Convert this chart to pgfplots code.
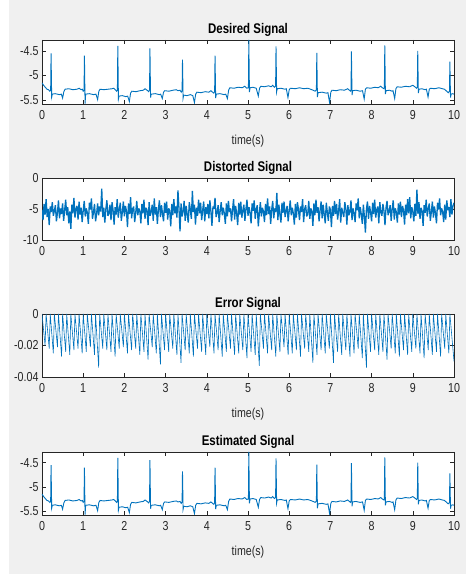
\documentclass[border=0pt]{standalone}
\usepackage{fontspec}
\setmainfont[FakeStretch=0.82]{Liberation Sans}
\usepackage{pgfplots}
\usepackage{pgfplotstable}
\pgfplotsset{compat=1.18}
\definecolor{mblue}{rgb}{0,0.447,0.741}
\definecolor{figbg}{HTML}{F0F0F0}
\definecolor{axgray}{HTML}{262626}

\pgfplotstableread{
t y
0.00 -5.15
0.04 -5.20
0.08 -5.24
0.12 -5.28
0.16 -5.29
0.19 -5.32
0.21 -5.30
0.22 -4.55
0.235 -5.44
0.25 -5.38
0.32 -5.37
0.42 -5.39
0.47 -5.38
0.50 -5.46
0.53 -5.33
0.56 -5.28
0.65 -5.27
0.75 -5.29
0.85 -5.28
0.90 -5.26
0.95 -5.29
0.98 -5.28
1.00 -5.32
1.02 -5.30
1.03 -4.60
1.045 -5.57
1.06 -5.38
1.15 -5.37
1.25 -5.39
1.31 -5.38
1.35 -5.49
1.38 -5.32
1.41 -5.28
1.50 -5.29
1.60 -5.28
1.70 -5.27
1.74 -5.26
1.78 -5.29
1.81 -5.32
1.83 -5.30
1.84 -4.40
1.855 -5.48
1.87 -5.42
1.95 -5.41
2.03 -5.43
2.08 -5.42
2.12 -5.53
2.15 -5.36
2.18 -5.32
2.28 -5.33
2.38 -5.31
2.46 -5.30
2.50 -5.27
2.55 -5.30
2.59 -5.33
2.61 -5.30
2.62 -4.45
2.635 -5.45
2.65 -5.38
2.75 -5.37
2.85 -5.39
2.88 -5.38
2.92 -5.47
2.95 -5.34
2.98 -5.31
3.08 -5.32
3.18 -5.30
3.26 -5.29
3.30 -5.31
3.35 -5.30
3.38 -5.34
3.40 -5.31
3.41 -4.68
3.425 -5.46
3.44 -5.40
3.52 -5.41
3.60 -5.39
3.66 -5.41
3.70 -5.55
3.73 -5.38
3.76 -5.34
3.86 -5.35
3.96 -5.33
4.05 -5.34
4.10 -5.31
4.14 -5.34
4.17 -5.36
4.19 -5.33
4.20 -4.60
4.215 -5.46
4.23 -5.38
4.32 -5.37
4.42 -5.39
4.46 -5.38
4.50 -5.47
4.53 -5.30
4.56 -5.25
4.66 -5.26
4.76 -5.24
4.86 -5.25
4.92 -5.22
4.97 -5.26
5.01 -5.25
5.02 -4.28
5.035 -5.34
5.05 -5.25
5.12 -5.24
5.20 -5.26
5.25 -5.42
5.28 -5.26
5.31 -5.22
5.40 -5.23
5.50 -5.21
5.56 -5.23
5.60 -5.20
5.64 -5.24
5.67 -5.22
5.68 -4.41
5.695 -5.33
5.71 -5.27
5.80 -5.26
5.90 -5.28
5.93 -5.27
5.97 -5.45
6.00 -5.29
6.03 -5.26
6.15 -5.27
6.25 -5.25
6.35 -5.27
6.45 -5.26
6.52 -5.28
6.58 -5.30
6.63 -5.32
6.66 -5.29
6.67 -4.54
6.685 -5.44
6.70 -5.35
6.80 -5.34
6.90 -5.36
6.94 -5.35
6.98 -5.55
7.01 -5.34
7.04 -5.30
7.14 -5.31
7.24 -5.29
7.34 -5.30
7.42 -5.27
7.46 -5.30
7.49 -5.32
7.50 -5.29
7.51 -4.51
7.525 -5.40
7.54 -5.31
7.62 -5.30
7.72 -5.32
7.78 -5.31
7.82 -5.48
7.85 -5.28
7.88 -5.25
7.98 -5.26
8.08 -5.24
8.16 -5.25
8.22 -5.22
8.26 -5.25
8.30 -5.27
8.31 -5.24
8.32 -4.39
8.335 -5.38
8.35 -5.31
8.43 -5.30
8.50 -5.32
8.52 -5.31
8.56 -5.47
8.59 -5.27
8.62 -5.23
8.72 -5.24
8.82 -5.22
8.92 -5.23
9.00 -5.20
9.05 -5.23
9.09 -5.26
9.11 -5.24
9.12 -4.50
9.135 -5.36
9.15 -5.28
9.22 -5.27
9.30 -5.29
9.33 -5.28
9.37 -5.44
9.40 -5.28
9.43 -5.26
9.53 -5.27
9.63 -5.25
9.72 -5.27
9.77 -5.28
9.82 -5.32
9.86 -5.35
9.89 -5.32
9.90 -4.72
9.915 -5.45
9.93 -5.38
9.97 -5.37
10.00 -5.38
}\ecg

\pgfplotstableread[row sep=\\]{
y\\
-5.1\\ -6.8\\ -4.2\\ -5.9\\ -3.4\\ -6.3\\ -5.0\\ -7.6\\ -4.6\\ -5.5\\ -3.9\\ -6.1\\ -5.3\\ -4.4\\ -7.0\\ -5.6\\ -3.6\\ -6.5\\ -4.9\\ -5.8\\
-4.1\\ -6.9\\ -5.2\\ -3.5\\ -6.0\\ -4.7\\ -7.3\\ -5.4\\ -8.2\\ -4.3\\ -5.7\\ -3.2\\ -6.4\\ -5.0\\ -4.5\\ -6.7\\ -3.8\\ -5.9\\ -4.8\\ -7.1\\
-5.3\\ -3.7\\ -6.2\\ -4.9\\ -5.6\\ -7.4\\ -4.0\\ -5.1\\ -3.3\\ -6.6\\ -5.5\\ -4.2\\ -7.0\\ -5.8\\ -4.1\\ -6.0\\ -4.6\\ -5.4\\ -1.7\\ -6.3\\
-4.8\\ -7.2\\ -5.0\\ -3.6\\ -6.1\\ -5.7\\ -4.3\\ -6.8\\ -3.9\\ -5.2\\ -7.5\\ -4.7\\ -5.9\\ -3.4\\ -6.4\\ -5.1\\ -4.0\\ -6.9\\ -5.5\\ -3.8\\
-6.2\\ -4.5\\ -5.3\\ -7.9\\ -4.1\\ -5.8\\ -3.1\\ -6.5\\ -5.0\\ -4.6\\ -7.1\\ -5.6\\ -3.7\\ -6.0\\ -4.9\\ -5.4\\ -7.3\\ -4.2\\ -5.7\\ -3.5\\
-6.6\\ -4.8\\ -5.2\\ -7.6\\ -3.9\\ -6.1\\ -5.5\\ -4.3\\ -6.9\\ -3.3\\ -5.9\\ -4.7\\ -7.4\\ -5.1\\ -3.6\\ -6.3\\ -4.4\\ -5.8\\ -7.0\\ -4.0\\
-5.6\\ -3.8\\ -6.7\\ -4.9\\ -5.3\\ -7.8\\ -4.2\\ -6.0\\ -3.4\\ -5.7\\ -4.6\\ -6.4\\ -2.0\\ -5.0\\ -8.6\\ -4.1\\ -6.2\\ -5.4\\ -3.7\\ -6.9\\
-4.5\\ -5.9\\ -7.2\\ -3.9\\ -5.1\\ -6.6\\ -2.1\\ -5.5\\ -4.3\\ -7.5\\ -4.8\\ -6.1\\ -3.5\\ -5.7\\ -4.0\\ -6.8\\ -5.2\\ -3.8\\ -7.0\\ -4.7\\
-5.8\\ -4.2\\ -6.5\\ -3.6\\ -5.4\\ -7.7\\ -4.6\\ -5.0\\ -3.2\\ -6.3\\ -5.6\\ -4.4\\ -7.1\\ -5.3\\ -3.9\\ -6.0\\ -4.8\\ -5.7\\ -7.4\\ -4.1\\
-6.2\\ -3.7\\ -5.5\\ -4.9\\ -7.0\\ -5.1\\ -3.4\\ -6.7\\ -4.5\\ -5.8\\ -7.6\\ -4.0\\ -5.9\\ -3.8\\ -6.4\\ -5.2\\ -4.3\\ -6.9\\ -5.0\\ -3.5\\
-6.1\\ -4.7\\ -5.6\\ -7.3\\ -4.1\\ -5.3\\ -3.6\\ -6.6\\ -5.0\\ -4.4\\ -7.8\\ -5.7\\ -3.9\\ -6.2\\ -4.8\\ -5.4\\ -7.1\\ -4.2\\ -6.0\\ -3.3\\
-5.8\\ -4.6\\ -7.4\\ -5.1\\ -3.7\\ -6.5\\ -4.9\\ -5.5\\ -2.4\\ -6.8\\ -4.3\\ -5.9\\ -7.2\\ -4.0\\ -5.6\\ -3.8\\ -6.3\\ -5.2\\ -4.5\\ -7.0\\
-5.3\\ -3.6\\ -6.0\\ -4.8\\ -5.7\\ -7.5\\ -4.2\\ -6.4\\ -3.9\\ -5.1\\ -6.8\\ -4.6\\ -5.5\\ -3.4\\ -7.1\\ -5.0\\ -4.4\\ -6.2\\ -5.8\\ -3.7\\
-6.6\\ -4.9\\ -5.4\\ -7.7\\ -4.1\\ -6.0\\ -3.5\\ -5.6\\ -4.7\\ -7.0\\ -5.2\\ -3.8\\ -6.5\\ -4.3\\ -5.9\\ -7.3\\ -4.0\\ -5.5\\ -6.9\\ -4.6\\
-5.1\\ -7.9\\ -4.5\\ -6.1\\ -3.7\\ -5.8\\ -4.2\\ -6.7\\ -5.3\\ -3.4\\ -7.2\\ -4.8\\ -5.6\\ -6.3\\ -3.9\\ -5.0\\ -7.5\\ -4.4\\ -6.0\\ -5.4\\
-3.6\\ -6.8\\ -4.9\\ -5.7\\ -7.1\\ -4.1\\ -5.2\\ -3.3\\ -6.5\\ -4.7\\ -5.9\\ -7.4\\ -4.3\\ -6.2\\ -8.8\\ -5.0\\ -3.8\\ -6.6\\ -4.5\\ -5.5\\
-7.0\\ -4.0\\ -5.8\\ -3.5\\ -6.4\\ -5.1\\ -4.6\\ -7.3\\ -3.9\\ -5.6\\ -6.1\\ -4.2\\ -5.3\\ -7.6\\ -4.8\\ -3.7\\ -6.0\\ -5.4\\ -4.4\\ -6.9\\
-5.0\\ -3.6\\ -6.7\\ -4.9\\ -5.5\\ -7.2\\ -4.1\\ -5.9\\ -3.8\\ -6.3\\ -4.5\\ -5.2\\ -7.5\\ -4.3\\ -6.0\\ -3.4\\ -5.7\\ -3.1\\ -6.5\\ -4.7\\
-5.4\\ -7.0\\ -4.2\\ -6.1\\ -1.9\\ -5.8\\ -3.9\\ -6.6\\ -4.8\\ -5.3\\ -7.7\\ -4.4\\ -5.6\\ -3.5\\ -6.2\\ -5.0\\ -4.1\\ -6.9\\ -5.5\\ -3.8\\
-6.4\\ -4.6\\ -5.7\\ -7.3\\ -4.0\\ -5.1\\ -3.3\\ -6.0\\ -4.9\\ -5.5\\ -7.1\\ -4.3\\ -6.7\\ -3.6\\ -5.2\\ -4.7\\ -6.3\\ -3.4\\ -5.9\\ -4.5\\
-4.0\\
}\distorted

\pgfplotstableread[row sep=\\]{
t y\\
0.0 0\\ 0.075 -0.020\\ 0.1 0\\ 0.175 -0.022\\ 0.2 0\\ 0.275 -0.025\\ 0.3 0\\ 0.375 -0.021\\ 0.4 0\\ 0.475 -0.027\\
0.5 0\\ 0.575 -0.024\\ 0.6 0\\ 0.675 -0.026\\ 0.7 0\\ 0.775 -0.023\\ 0.8 0\\ 0.875 -0.022\\ 0.9 0\\ 0.975 -0.025\\
1.0 0\\ 1.075 -0.024\\ 1.1 0\\ 1.175 -0.021\\ 1.2 0\\ 1.275 -0.026\\ 1.3 0\\ 1.375 -0.034\\ 1.4 0\\ 1.475 -0.022\\
1.5 0\\ 1.575 -0.023\\ 1.6 0\\ 1.675 -0.024\\ 1.7 0\\ 1.775 -0.027\\ 1.8 0\\ 1.875 -0.022\\ 1.9 0\\ 1.975 -0.021\\
2.0 0\\ 2.075 -0.025\\ 2.1 0\\ 2.175 -0.023\\ 2.2 0\\ 2.275 -0.022\\ 2.3 0\\ 2.375 -0.026\\ 2.4 0\\ 2.475 -0.024\\
2.5 0\\ 2.575 -0.029\\ 2.6 0\\ 2.675 -0.021\\ 2.7 0\\ 2.775 -0.025\\ 2.8 0\\ 2.875 -0.032\\ 2.9 0\\ 2.975 -0.023\\
3.0 0\\ 3.075 -0.024\\ 3.1 0\\ 3.175 -0.022\\ 3.2 0\\ 3.275 -0.026\\ 3.3 0\\ 3.375 -0.031\\ 3.4 0\\ 3.475 -0.023\\
3.5 0\\ 3.575 -0.025\\ 3.6 0\\ 3.675 -0.027\\ 3.7 0\\ 3.775 -0.022\\ 3.8 0\\ 3.875 -0.024\\ 3.9 0\\ 3.975 -0.026\\
4.0 0\\ 4.075 -0.021\\ 4.1 0\\ 4.175 -0.025\\ 4.2 0\\ 4.275 -0.023\\ 4.3 0\\ 4.375 -0.027\\ 4.4 0\\ 4.475 -0.024\\
4.5 0\\ 4.575 -0.022\\ 4.6 0\\ 4.675 -0.026\\ 4.7 0\\ 4.775 -0.025\\ 4.8 0\\ 4.875 -0.023\\ 4.9 0\\ 4.975 -0.028\\
5.0 0\\ 5.075 -0.024\\ 5.1 0\\ 5.175 -0.026\\ 5.2 0\\ 5.275 -0.033\\ 5.3 0\\ 5.375 -0.022\\ 5.4 0\\ 5.475 -0.025\\
5.5 0\\ 5.575 -0.023\\ 5.6 0\\ 5.675 -0.027\\ 5.7 0\\ 5.775 -0.024\\ 5.8 0\\ 5.875 -0.021\\ 5.9 0\\ 5.975 -0.026\\
6.0 0\\ 6.075 -0.025\\ 6.1 0\\ 6.175 -0.023\\ 6.2 0\\ 6.275 -0.027\\ 6.3 0\\ 6.375 -0.022\\ 6.4 0\\ 6.475 -0.024\\
6.5 0\\ 6.575 -0.031\\ 6.6 0\\ 6.675 -0.026\\ 6.7 0\\ 6.775 -0.023\\ 6.8 0\\ 6.875 -0.025\\ 6.9 0\\ 6.975 -0.022\\
7.0 0\\ 7.075 -0.031\\ 7.1 0\\ 7.175 -0.024\\ 7.2 0\\ 7.275 -0.026\\ 7.3 0\\ 7.375 -0.023\\ 7.4 0\\ 7.475 -0.027\\
7.5 0\\ 7.575 -0.025\\ 7.6 0\\ 7.675 -0.022\\ 7.7 0\\ 7.775 -0.028\\ 7.8 0\\ 7.875 -0.034\\ 7.9 0\\ 7.975 -0.024\\
8.0 0\\ 8.075 -0.023\\ 8.1 0\\ 8.175 -0.026\\ 8.2 0\\ 8.275 -0.024\\ 8.3 0\\ 8.375 -0.029\\ 8.4 0\\ 8.475 -0.022\\
8.5 0\\ 8.575 -0.025\\ 8.6 0\\ 8.675 -0.027\\ 8.7 0\\ 8.775 -0.023\\ 8.8 0\\ 8.875 -0.026\\ 8.9 0\\ 8.975 -0.024\\
9.0 0\\ 9.075 -0.022\\ 9.1 0\\ 9.175 -0.025\\ 9.2 0\\ 9.275 -0.028\\ 9.3 0\\ 9.375 -0.023\\ 9.4 0\\ 9.475 -0.026\\
9.5 0\\ 9.575 -0.024\\ 9.6 0\\ 9.675 -0.027\\ 9.7 0\\ 9.775 -0.022\\ 9.8 0\\ 9.875 -0.025\\ 9.9 0\\ 10.0 -0.030\\
}\errsig

\pgfplotsset{
  mpanel/.style={
    scale only axis, width=412bp,
    anchor=south west,
    xmin=0, xmax=10,
    xtick={0,1,2,3,4,5,6,7,8,9,10},
    xticklabels={0,1,2,3,4,5,6,7,8,9,10},
    scaled ticks=false,
    tick align=inside, xtick pos=both, ytick pos=both,
    major tick length=4bp,
    axis line style={axgray, line width=0.6bp},
    every tick/.style={axgray, line width=0.6bp},
    axis background/.style={fill=white},
    ticklabel style={font=\fontsize{13bp}{14bp}\selectfont, text=axgray},
    xticklabel style={yshift=-3bp},
    every axis title shift=0pt,
    title style={font=\bfseries\fontsize{14bp}{15bp}\selectfont, text=black},
    label style={font=\fontsize{13bp}{14bp}\selectfont, text=axgray},
    xlabel style={yshift=-9bp},
    clip=true,
  },
}

\begin{document}
\begin{tikzpicture}
\path (0,0) rectangle (466bp,574bp);
\fill[figbg] (9bp,0) rectangle (466bp,574bp);

\begin{axis}[mpanel, at={(42bp,470bp)}, height=64bp,
  ymin=-5.58, ymax=-4.28,
  ytick={-5.5,-5,-4.5}, yticklabels={-5.5,-5,-4.5},
  title={Desired Signal}, xlabel={time(s)}]
\addplot[mblue, line width=0.9bp] table[x=t,y=y]{\ecg};
\end{axis}

\begin{axis}[mpanel, at={(42bp,334bp)}, height=62bp,
  ymin=-10, ymax=0,
  ytick={-10,-5,0}, yticklabels={-10,-5,0},
  title={Distorted Signal}]
\addplot[mblue, line width=1.3bp, line join=bevel] table[x expr=\coordindex*0.025, y=y]{\distorted};
\end{axis}

\begin{axis}[mpanel, at={(42bp,197bp)}, height=63bp,
  ymin=-0.04, ymax=0,
  ytick={-0.04,-0.02,0}, yticklabels={-0.04,-0.02,0},
  title={Error Signal}, xlabel={time(s)}]
\addplot[mblue, line width=0.6bp, line join=bevel] table[x=t,y=y]{\errsig};
\end{axis}

\begin{axis}[mpanel, at={(42bp,59bp)}, height=63bp,
  ymin=-5.58, ymax=-4.28,
  ytick={-5.5,-5,-4.5}, yticklabels={-5.5,-5,-4.5},
  title={Estimated Signal}, xlabel={time(s)}]
\addplot[mblue, line width=0.9bp] table[x=t,y=y]{\ecg};
\end{axis}
\end{tikzpicture}
\end{document}
